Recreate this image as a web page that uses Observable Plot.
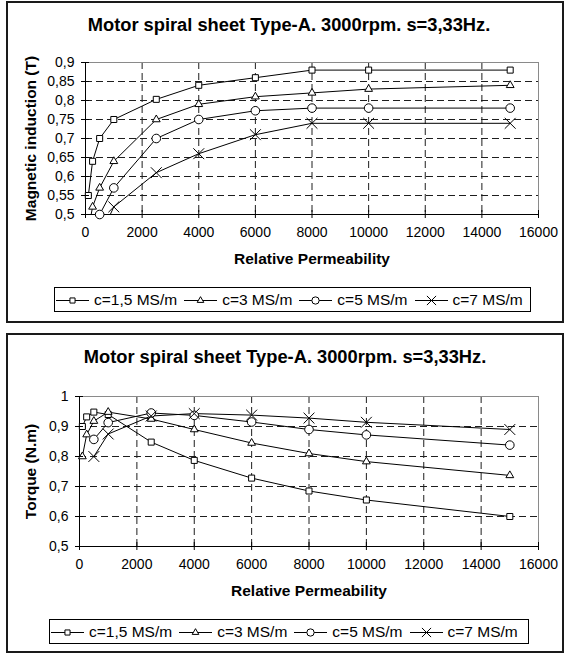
<!DOCTYPE html>
<html><head><meta charset="utf-8">
<script src="https://cdn.jsdelivr.net/npm/d3@7"></script>
<script src="https://cdn.jsdelivr.net/npm/@observablehq/plot@0.6"></script>
<style>
body{margin:0;background:#fff;}
#root{position:relative;width:564px;height:657px;font-family:"Liberation Sans",Arial,sans-serif;color:#000;overflow:hidden;background:#fff}
.frame{position:absolute;border:2px solid #1a1a1a;box-sizing:border-box}
.title{position:absolute;text-align:center;font-weight:bold;font-size:18.3px;line-height:20px;white-space:nowrap}
.chart{position:absolute;left:0}
.legend{position:absolute;border:1.5px solid #000;box-sizing:border-box;display:flex;align-items:center;font-size:15.5px;padding-left:1px;background:#fff}
.item{display:flex;align-items:center;margin-right:7px;white-space:nowrap}
.item svg{margin-right:5px}
</style></head><body><div id="root"></div>
<script>
// ---------- data ----------
const permeability = [100, 250, 500, 1000, 2500, 4000, 6000, 8000, 10000, 15000];
const seriesNames = ["c=1,5 MS/m", "c=3 MS/m", "c=5 MS/m", "c=7 MS/m"];
const seriesSymbols = ["square", "triangle", "circle", "times"];

// Magnetic induction (T)
const inductionC15 = [0.55, 0.64, 0.70, 0.75, 0.803, 0.84, 0.86, 0.88, 0.88, 0.88];
const inductionC3  = [0.46, 0.52, 0.57, 0.64, 0.75, 0.79, 0.81, 0.82, 0.83, 0.84];
const inductionC5  = [null, 0.44, 0.50, 0.57, 0.70, 0.75, 0.773, 0.78, 0.78, 0.78];
const inductionC7  = [null, null, 0.44, 0.52, 0.61, 0.66, 0.71, 0.74, 0.74, 0.74];

// Torque (N.m)
const torqueC15 = [0.90, 0.932, 0.948, 0.94, 0.848, 0.787, 0.728, 0.685, 0.655, 0.60];
const torqueC3  = [0.80, 0.873, 0.918, 0.948, 0.925, 0.89, 0.845, 0.81, 0.783, 0.737];
const torqueC5  = [null, null, 0.857, 0.913, 0.945, 0.937, 0.915, 0.89, 0.872, 0.838];
const torqueC7  = [null, null, 0.80, 0.875, 0.935, 0.943, 0.938, 0.928, 0.914, 0.89];

const xTicks = [0, 2000, 4000, 6000, 8000, 10000, 12000, 14000, 16000];
const inductionTicks = [0.5, 0.55, 0.6, 0.65, 0.7, 0.75, 0.8, 0.85, 0.9];
const torqueTicks = [0.5, 0.6, 0.7, 0.8, 0.9, 1];

const titleText = "Motor spiral sheet Type-A. 3000rpm. s=3,33Hz.";
const xLabel = "Relative Permeability";
const inductionLabel = "Magnetic induction (T)";
const torqueLabel = "Torque (N.m)";

// ---------- styling ----------
const symbolR = {square: 3.4, triangle: 2.9, circle: 4.3, times: 5.0};
const commaFmt = d => String(d).replace(".", ",");
const root = document.getElementById("root");

function panel(cfg) {
  const {values, yTicks, yLabel, top, frameTop, frameHeight, marginLeft, titleCenter, legendLeft, legendWidth, yLabelDx} = cfg;
  const frame = document.createElement("div");
  frame.className = "frame";
  Object.assign(frame.style, {left: "6px", top: frameTop + "px", width: "558px", height: frameHeight + "px"});
  root.appendChild(frame);

  const title = document.createElement("div");
  title.className = "title";
  title.textContent = titleText;
  Object.assign(title.style, {left: (titleCenter - 250) + "px", width: "500px", top: (top + cfg.titleY - 10) + "px"});
  root.appendChild(title);

  const yDomain = [yTicks[0], yTicks[yTicks.length - 1]];
  const xDomain = [xTicks[0], xTicks[xTicks.length - 1]];
  const data = [];
  values.forEach((vals, si) => vals.forEach((v, i) => {
    if (v != null) data.push({x: permeability[i], y: v, s: si});
  }));

  const marks = [
    Plot.gridX(xTicks.slice(1, -1), {stroke: "#1e1e1e", strokeOpacity: 1, strokeDasharray: "7,4"}),
    Plot.gridY(yTicks.slice(1, -1), {stroke: "#1e1e1e", strokeOpacity: 1, strokeDasharray: "7,4"}),
    Plot.ruleY([yDomain[1]], {stroke: "#8a8a8a"}),
    Plot.ruleX([xDomain[1]], {stroke: "#8a8a8a"}),
  ];
  seriesNames.forEach((name, si) => {
    const sd = data.filter(d => d.s === si);
    marks.push(Plot.line(sd, {x: "x", y: "y", stroke: "#000", strokeWidth: 1, clip: true}));
  });
  marks.push(Plot.ruleX([xDomain[0]], {stroke: "#000"}));
  marks.push(Plot.ruleY([yDomain[0]], {stroke: "#000"}));
  seriesNames.forEach((name, si) => {
    const sd = data.filter(d => d.s === si && d.y >= yDomain[0] - 1e-9);
    const sym = seriesSymbols[si];
    marks.push(Plot.dot(sd, {x: "x", y: "y", symbol: () => sym, r: symbolR[sym], fill: "#fff", stroke: "#000", strokeWidth: 1}));
  });
  // cross ticks
  marks.push(Plot.axisX(xTicks, {tickSize: 8, dy: -4, fill: "none", label: null}));
  marks.push(Plot.axisY(yTicks, {tickSize: 8, dx: 4, fill: "none", label: null}));
  // tick labels
  marks.push(Plot.axisX(xTicks, {tickSize: 0, tickPadding: 13, tickFormat: d => String(d), label: null}));
  marks.push(Plot.axisY(yTicks, {tickSize: 0, tickPadding: 11, tickFormat: commaFmt, label: null}));
  // axis titles
  marks.push(Plot.text([xLabel], {text: d => d, frameAnchor: "bottom", dy: 49, textAnchor: "middle", fontWeight: "bold", fontSize: 15.5}));
  marks.push(Plot.text([yLabel], {text: d => d, frameAnchor: "left", dx: yLabelDx, rotate: -90, textAnchor: "middle", fontWeight: "bold", fontSize: 15.5}));

  const svg = Plot.plot({
    width: 564,
    height: 282,
    marginLeft: marginLeft,
    marginRight: 26,
    marginTop: cfg.marginTop,
    marginBottom: 282 - cfg.marginTop - cfg.plotHeight,
    x: {domain: xDomain},
    y: {domain: yDomain},
    style: {fontFamily: "Liberation Sans, Arial, sans-serif", fontSize: "14px", background: "transparent", overflow: "visible", color: "#000"},
    marks
  });
  svg.classList.add("chart");
  svg.style.top = top + "px";
  root.appendChild(svg);

  const legend = document.createElement("div");
  legend.className = "legend";
  Object.assign(legend.style, {left: legendLeft + "px", width: legendWidth + "px", top: (top + cfg.legendY) + "px", height: "25px"});
  seriesNames.forEach((name, si) => {
    const item = document.createElement("div");
    item.className = "item";
    const sym = seriesSymbols[si];
    const s = d3.create("svg").attr("width", 33).attr("height", 16);
    s.append("line").attr("x1", 0).attr("x2", 33).attr("y1", 8.5).attr("y2", 8.5).attr("stroke", "#000");
    const symType = {square: d3.symbolSquare, triangle: d3.symbolTriangle, circle: d3.symbolCircle, times: d3.symbolTimes}[sym];
    const r = symbolR[sym] * 0.85;
    s.append("path").attr("transform", "translate(16.5,8.5)")
      .attr("d", d3.symbol(symType, Math.PI * r * r)())
      .attr("fill", sym === "times" ? "none" : "#fff").attr("stroke", "#000");
    item.appendChild(s.node());
    const t = document.createElement("span");
    t.textContent = name;
    item.appendChild(t);
    legend.appendChild(item);
  });
  root.appendChild(legend);
}

panel({
  values: [inductionC15, inductionC3, inductionC5, inductionC7],
  yTicks: inductionTicks, yLabel: inductionLabel,
  top: 0, frameTop: 1, frameHeight: 322, marginLeft: 85, marginTop: 62, plotHeight: 152,
  titleCenter: 289, titleY: 25, legendLeft: 54, legendWidth: 477, legendY: 287, yLabelDx: -54
});
panel({
  values: [torqueC15, torqueC3, torqueC5, torqueC7],
  yTicks: torqueTicks, yLabel: torqueLabel,
  top: 330, frameTop: 333, frameHeight: 320, marginLeft: 79, marginTop: 66, plotHeight: 150,
  titleCenter: 285, titleY: 27, legendLeft: 49, legendWidth: 480, legendY: 289, yLabelDx: -48
});
</script></body></html>
